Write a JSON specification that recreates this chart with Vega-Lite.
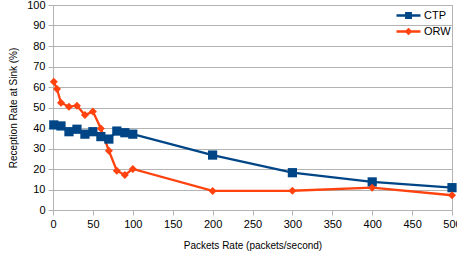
{
  "$schema": "https://vega.github.io/schema/vega-lite/v6.json",
  "width": 399,
  "height": 205,
  "autosize": "none",
  "padding": {"left": 53, "top": 5, "right": 5, "bottom": 46},
  "background": "white",
  "config": {
    "font": "Liberation Sans",
    "view": {"stroke": "#b3b3b3", "strokeWidth": 1},
    "axis": {
      "labelFont": "Liberation Sans",
      "titleFont": "Liberation Sans",
      "labelFontSize": 11,
      "titleFontSize": 10,
      "titleFontWeight": "normal",
      "labelColor": "#000000",
      "titleColor": "#000000",
      "domainColor": "#b3b3b3",
      "tickColor": "#b3b3b3",
      "gridColor": "#b3b3b3",
      "tickSize": 5,
      "labelFlush": false
    },
    "legend": {
      "labelFont": "Liberation Sans",
      "labelFontSize": 11,
      "labelColor": "#000000"
    }
  },
  "data": {
    "values": [
      {"rate": 1, "value": 41.5, "protocol": "CTP"},
      {"rate": 10, "value": 41.0, "protocol": "CTP"},
      {"rate": 20, "value": 38.2, "protocol": "CTP"},
      {"rate": 30, "value": 39.4, "protocol": "CTP"},
      {"rate": 40, "value": 37.0, "protocol": "CTP"},
      {"rate": 50, "value": 38.2, "protocol": "CTP"},
      {"rate": 60, "value": 35.8, "protocol": "CTP"},
      {"rate": 70, "value": 34.6, "protocol": "CTP"},
      {"rate": 80, "value": 38.5, "protocol": "CTP"},
      {"rate": 90, "value": 37.7, "protocol": "CTP"},
      {"rate": 100, "value": 37.0, "protocol": "CTP"},
      {"rate": 200, "value": 26.8, "protocol": "CTP"},
      {"rate": 300, "value": 18.2, "protocol": "CTP"},
      {"rate": 400, "value": 13.7, "protocol": "CTP"},
      {"rate": 500, "value": 10.9, "protocol": "CTP"},
      {"rate": 1, "value": 62.6, "protocol": "ORW"},
      {"rate": 5, "value": 59.0, "protocol": "ORW"},
      {"rate": 10, "value": 52.3, "protocol": "ORW"},
      {"rate": 20, "value": 50.4, "protocol": "ORW"},
      {"rate": 30, "value": 50.9, "protocol": "ORW"},
      {"rate": 40, "value": 46.3, "protocol": "ORW"},
      {"rate": 50, "value": 48.0, "protocol": "ORW"},
      {"rate": 60, "value": 39.8, "protocol": "ORW"},
      {"rate": 70, "value": 28.9, "protocol": "ORW"},
      {"rate": 80, "value": 19.2, "protocol": "ORW"},
      {"rate": 90, "value": 17.1, "protocol": "ORW"},
      {"rate": 100, "value": 20.0, "protocol": "ORW"},
      {"rate": 200, "value": 9.3, "protocol": "ORW"},
      {"rate": 300, "value": 9.4, "protocol": "ORW"},
      {"rate": 400, "value": 10.9, "protocol": "ORW"},
      {"rate": 500, "value": 7.2, "protocol": "ORW"}
    ]
  },
  "encoding": {
    "x": {
      "field": "rate",
      "type": "quantitative",
      "scale": {"domain": [0, 500], "nice": false},
      "axis": {"values": [0,50,100,150,200,250,300,350,400,450,500], "grid": false, "title": "Packets Rate (packets/second)", "titlePadding": 11, "labelPadding": 3}
    },
    "y": {
      "field": "value",
      "type": "quantitative",
      "scale": {"domain": [0, 100], "nice": false},
      "axis": {"values": [0,10,20,30,40,50,60,70,80,90,100], "grid": true, "title": "Reception Rate at Sink (%)", "titlePadding": 8, "labelPadding": 3}
    },
    "color": {
      "field": "protocol",
      "type": "nominal",
      "scale": {"domain": ["CTP", "ORW"], "range": ["#004586", "#ff420e"]},
      "legend": {
        "title": null,
        "orient": "none",
        "legendX": 348,
        "legendY": 3,
        "padding": 0,
        "symbolSize": 144,
        "symbolStrokeWidth": 2.3,
        "labelOffset": 8,
        "rowPadding": 1,
        "encode": {
          "symbols": {
            "update": {
              "shape": {"signal": "datum.value === 'CTP' ? 'M-2,0H2M-0.38,-0.38H0.38V0.38H-0.38Z' : 'M-2,0H2M0,-0.36L0.36,0L0,0.36L-0.36,0Z'"},
              "size": {"value": 144},
              "strokeWidth": {"value": 2.3},
              "opacity": {"value": 1}
            }
          }
        }
      }
    }
  },
  "layer": [
    {
      "mark": {"type": "line", "strokeWidth": 2.3}
    },
    {
      "transform": [{"filter": "datum.protocol === 'CTP'"}],
      "mark": {"type": "point", "filled": true, "opacity": 1, "strokeWidth": 0, "shape": "square", "size": 85}
    },
    {
      "transform": [{"filter": "datum.protocol === 'ORW'"}],
      "mark": {"type": "point", "filled": true, "opacity": 1, "strokeWidth": 0, "shape": "diamond", "size": 64}
    }
  ]
}
